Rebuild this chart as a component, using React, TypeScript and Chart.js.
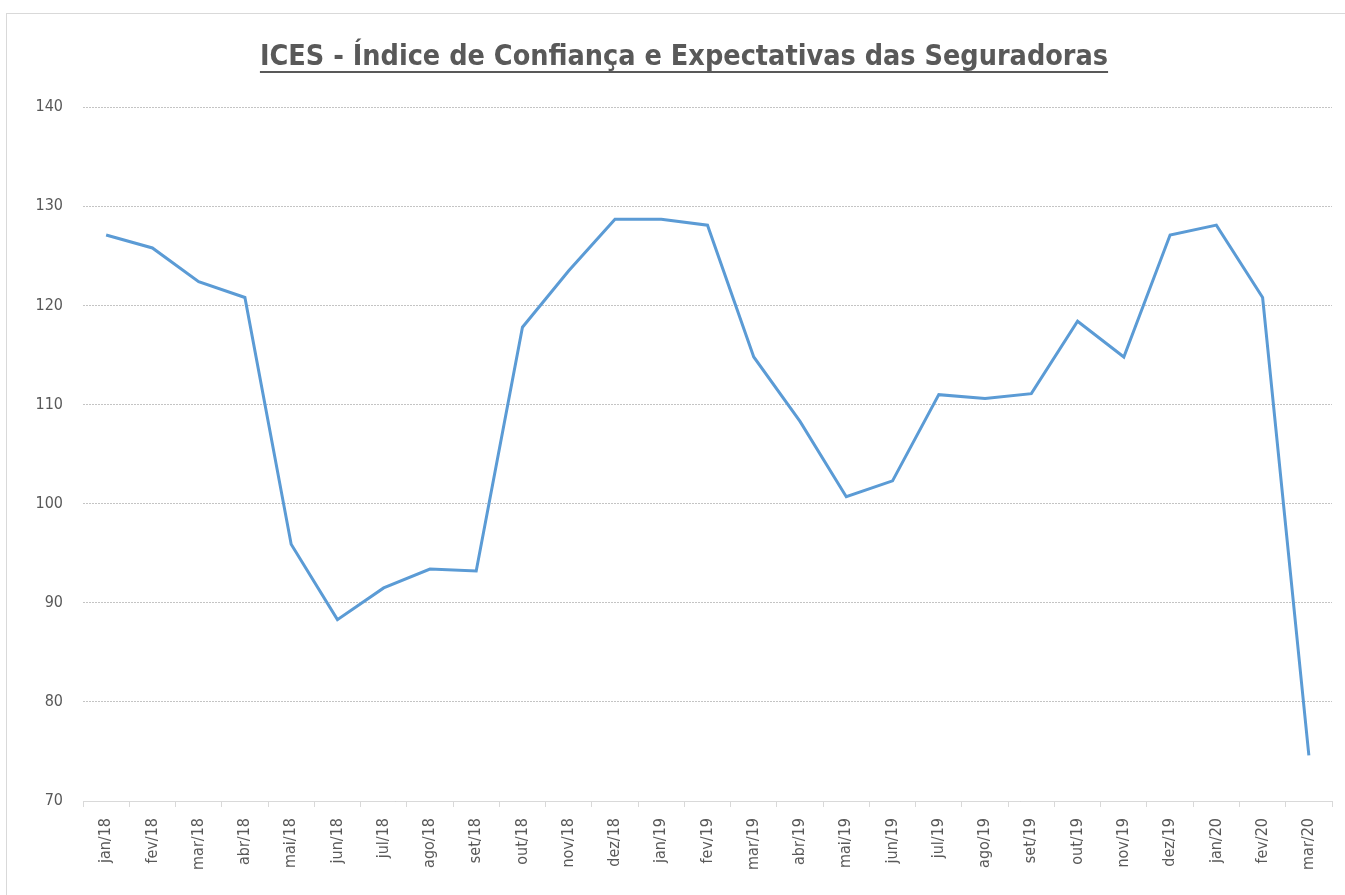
import React, { useEffect, useRef } from "react";
import { Chart, registerables } from "chart.js";

Chart.register(...registerables);

const TITLE = "ICES - Índice de Confiança e Expectativas das Seguradoras";

const categories = [
  "jan/18", "fev/18", "mar/18", "abr/18", "mai/18", "jun/18", "jul/18", "ago/18", "set/18",
  "out/18", "nov/18", "dez/18", "jan/19", "fev/19", "mar/19", "abr/19", "mai/19", "jun/19",
  "jul/19", "ago/19", "set/19", "out/19", "nov/19", "dez/19", "jan/20", "fev/20", "mar/20",
];

const icesValues = [
  127.1, 125.8, 122.4, 120.8, 95.9, 88.3, 91.5, 93.4, 93.2,
  117.8, 123.5, 128.7, 128.7, 128.1, 114.8, 108.3, 100.7, 102.3,
  111.0, 110.6, 111.1, 118.4, 114.8, 127.1, 128.1, 120.8, 74.6,
];

const yMin = 70;
const yMax = 140;
const yStep = 10;

const FONT = "'Liberation Sans Narrow', 'DejaVu Sans Condensed', sans-serif";
const TEXT_COLOR = "#595959";

const underlinePlugin = {
  id: "titleUnderline",
  afterDraw(chart: any) {
    const tb = chart.titleBlock;
    if (!tb) return;
    const ctx = chart.ctx;
    const opts = tb.options;
    ctx.save();
    ctx.font = `bold ${opts.font.size}px ${FONT}`;
    const w = ctx.measureText(TITLE).width;
    const cx = (tb.left + tb.right) / 2;
    const cy = tb.top + opts.padding.top + (opts.font.size * 1.2) / 2;
    const y = Math.round(cy + opts.font.size * 0.5) + 1;
    ctx.strokeStyle = TEXT_COLOR;
    ctx.lineWidth = 2;
    ctx.beginPath();
    ctx.moveTo(cx - w / 2, y);
    ctx.lineTo(cx + w / 2, y);
    ctx.stroke();
    ctx.restore();
  },
};

export default function App() {
  const ref = useRef<HTMLCanvasElement | null>(null);

  useEffect(() => {
    if (!ref.current) return;
    const chart = new Chart(ref.current, {
      type: "line",
      data: {
        labels: categories,
        datasets: [
          {
            label: "ICES",
            data: icesValues,
            borderColor: "#5b9bd5",
            backgroundColor: "#5b9bd5",
            borderWidth: 3,
            pointRadius: 0,
            pointHoverRadius: 0,
            tension: 0,
            fill: false,
          },
        ],
      },
      options: {
        animation: false,
        responsive: false,
        maintainAspectRatio: false,
        layout: { padding: { left: 36, right: 13, top: 0, bottom: 0 } },
        plugins: {
          legend: { display: false },
          tooltip: { enabled: false },
          title: {
            display: true,
            text: TITLE,
            color: TEXT_COLOR,
            font: { family: FONT, size: 28.5, weight: "bold", lineHeight: 1.2 },
            padding: { top: 40, bottom: 33 },
          },
        },
        scales: {
          x: {
            type: "category",
            offset: true,
            grid: {
              display: true,
              offset: true,
              drawOnChartArea: false,
              drawTicks: true,
              tickLength: 6,
              color: "#d9d9d9",
            },
            border: { display: true, color: "#d9d9d9", width: 1 },
            ticks: {
              color: TEXT_COLOR,
              font: { family: FONT, size: 16 },
              minRotation: 90,
              maxRotation: 90,
              autoSkip: false,
              padding: 11,
            },
            afterFit(scale: any) {
              scale.height = 94;
            },
          },
          y: {
            min: yMin,
            max: yMax,
            grid: {
              color: "#c4c4c4",
              drawTicks: false,
              lineWidth: 1,
            },
            border: { display: false, dash: [2, 1] },
            ticks: {
              stepSize: yStep,
              color: TEXT_COLOR,
              font: { family: FONT, size: 16 },
              padding: 20,
            },
            afterFit(scale: any) {
              scale.width = 47;
            },
          },
        },
      },
      plugins: [underlinePlugin],
    });
    return () => chart.destroy();
  }, []);

  return (
    <div
      style={{
        position: "absolute",
        left: 0,
        top: 0,
        width: 1345,
        height: 895,
        overflow: "hidden",
        background: "#ffffff",
      }}
    >
      <div
        style={{
          position: "absolute",
          left: 6,
          top: 13,
          width: 1400,
          height: 1000,
          border: "1px solid #d9d9d9",
        }}
      />
      <canvas
        ref={ref}
        width={1345}
        height={895}
        style={{ position: "absolute", left: 0, top: 0, width: 1345, height: 895 }}
      />
    </div>
  );
}
